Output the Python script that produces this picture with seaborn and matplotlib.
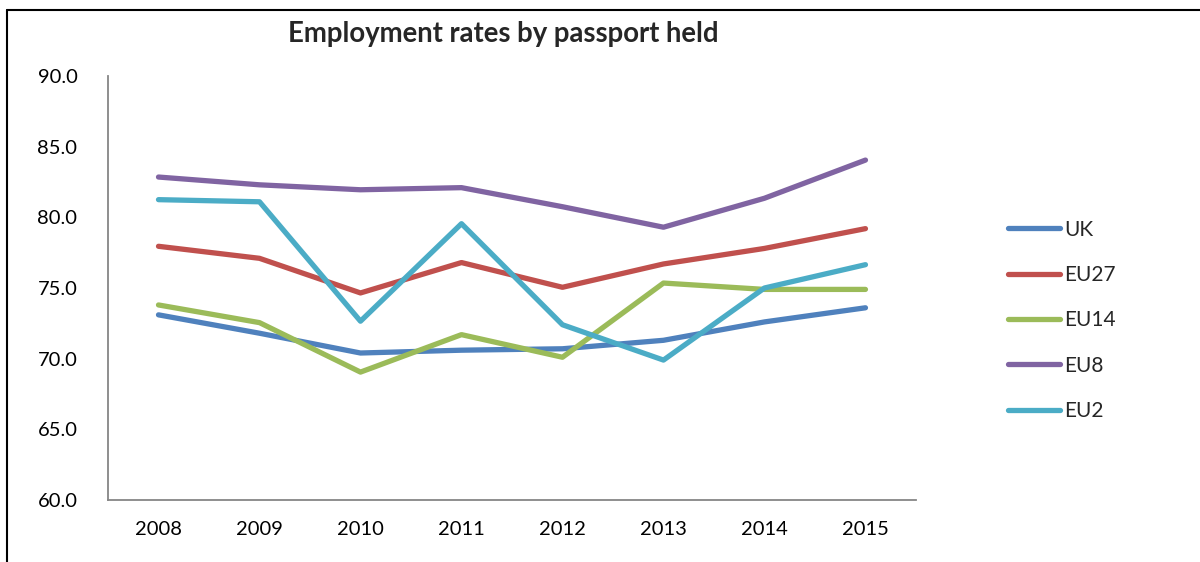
import matplotlib
matplotlib.use("Agg")
import matplotlib.pyplot as plt
import seaborn as sns
import pandas as pd
from matplotlib.lines import Line2D

years = ["2008", "2009", "2010", "2011", "2012", "2013", "2014", "2015"]
uk = [73.1, 71.8, 70.4, 70.6, 70.7, 71.3, 72.6, 73.6]
eu27 = [77.95, 77.1, 74.65, 76.8, 75.05, 76.7, 77.8, 79.2]
eu14 = [73.8, 72.55, 69.05, 71.7, 70.1, 75.35, 74.9, 74.9]
eu8 = [82.85, 82.3, 81.95, 82.1, 80.75, 79.3, 81.35, 84.05]
eu2 = [81.25, 81.1, 72.65, 79.55, 72.4, 69.9, 75.0, 76.65]
series_names = ["UK", "EU27", "EU14", "EU8", "EU2"]
colors = ["#4F81BD", "#C0504D", "#9BBB59", "#8064A2", "#4BACC6"]
yticks = [60, 65, 70, 75, 80, 85, 90]

rows = []
for name, vals in zip(series_names, [uk, eu27, eu14, eu8, eu2]):
    for y, v in zip(years, vals):
        rows.append({"Year": y, "Rate": v, "Group": name})
df = pd.DataFrame(rows)

sns.set_style("white")
plt.rcParams["font.family"] = ["Lato", "DejaVu Sans"]

fig = plt.figure(figsize=(12, 5.62), dpi=100)
ax = fig.add_axes([0.09, 0.1103, 0.6733, 0.7545])

sns.lineplot(data=df, x="Year", y="Rate", hue="Group", hue_order=series_names,
             palette=colors, linewidth=3.8, ax=ax, legend=False, sort=False)

ax.set_xlim(-0.5, 7.5)
ax.set_ylim(60, 90)
ax.set_yticks(yticks)
ax.set_yticklabels([f"{t:.1f}" for t in yticks])
ax.set_xlabel("")
ax.set_ylabel("")
for s in ["top", "right"]:
    ax.spines[s].set_visible(False)
for s in ["left", "bottom"]:
    ax.spines[s].set_color("#868686")
    ax.spines[s].set_linewidth(1.3)
ax.tick_params(axis="both", length=0, labelsize=14.5, colors="black")
ax.tick_params(axis="y", pad=22)
ax.tick_params(axis="x", pad=15)

fig.text(0.419, 0.94, "Employment rates by passport held", ha="center", va="center",
         fontsize=19.8, fontweight="bold")

handles = [Line2D([0], [0], color=c, lw=3.8, solid_capstyle="round") for c in colors]
fig.legend(handles, series_names, loc="center left", bbox_to_anchor=(0.824, 0.43),
           frameon=False, fontsize=15, handlelength=2.5, handletextpad=0.2,
           labelspacing=1.22)

# outer frame (partially visible)
fig.add_artist(Line2D([0.0062, 0.0062], [0, 0.982], color="black", lw=1.5, transform=fig.transFigure))
fig.add_artist(Line2D([0.0062, 1.0], [0.982, 0.982], color="black", lw=1.5, transform=fig.transFigure))

fig.savefig("out.png", dpi=100)
